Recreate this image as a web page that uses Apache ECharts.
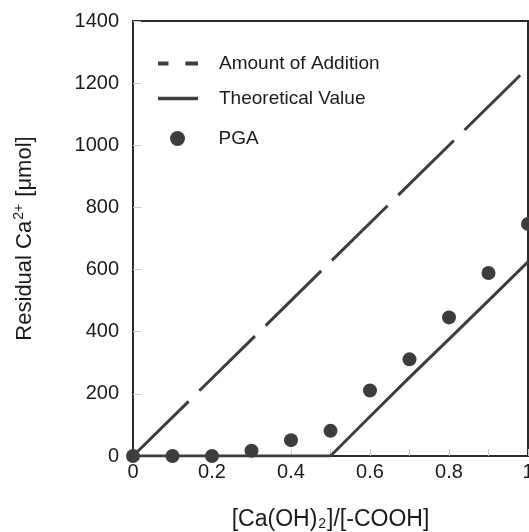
<!DOCTYPE html>
<html><head><meta charset="utf-8">
<script src="https://cdn.jsdelivr.net/npm/echarts@6/dist/echarts.min.js"></script>
<style>html,body{margin:0;padding:0;background:#fff}#c{width:529px;height:532px}</style>
</head><body><div id="c"></div>
<script>
const ratios = [0, 0.1, 0.2, 0.3, 0.4, 0.5, 0.6, 0.7, 0.8, 0.9, 1.0];
const additionX = [0, 1.0];
const additionY = [0, 1250];
const theoreticalY = [0, 0, 0, 0, 0, 0, 127, 253, 376, 500, 625];
const pgaY = [0, 0, 0, 17, 51, 81, 211, 311, 446, 589, 747];
const yTicks = [0, 200, 400, 600, 800, 1000, 1200, 1400];

const FONT = 'Liberation Sans, Arial, sans-serif';
const DARK = '#3d3d3d';
const chart = echarts.init(document.getElementById('c'), null, {renderer: 'canvas'});

function legendAt(left, top, name, icon, h) {
  const d = {name: name};
  if (icon) d.icon = icon;
  return {
    left: left, top: top, padding: 0, itemWidth: 40, itemHeight: h || 14,
    data: [d], selectedMode: false,
    textStyle: {fontFamily: FONT, fontSize: 19, color: '#1a1a1a', padding: [0, 0, 0, 16]}
  };
}

chart.setOption({
  animation: false,
  backgroundColor: '#fff',
  grid: {left: 133, right: 1, top: 21, bottom: 76, containLabel: false, outerBoundsMode: 'none',
         show: true, borderColor: '#2a2a2a', borderWidth: 2, backgroundColor: 'transparent'},
  legend: [
    legendAt(158, 54, 'Amount of Addition', 'path://M0,0H10V3.6H0Z M26,0H38V3.6H26Z'),
    legendAt(158, 89, 'Theoretical Value', 'path://M0,0H39V3.6H0Z'),
    legendAt(170, 129, 'PGA', 'circle', 15)
  ],
  xAxis: {
    type: 'value', min: 0, max: 1, interval: 0.1,
    name: '{a|[Ca(OH)}{s|2}{a|]/[-COOH]}',
    nameLocation: 'middle', nameGap: 47,
    nameTextStyle: {rich: {
      a: {fontFamily: FONT, fontSize: 23, color: '#1a1a1a', lineHeight: 28, verticalAlign: 'bottom'},
      s: {fontFamily: FONT, fontSize: 14, color: '#1a1a1a', lineHeight: 14, verticalAlign: 'bottom', padding: [0, 1, 0, 1]}
    }},
    axisLine: {show: true, lineStyle: {color: '#2a2a2a', width: 2}},
    axisTick: {show: true, inside: true, length: 7, lineStyle: {color: '#c8c8c8', width: 1}},
    splitLine: {show: false},
    axisLabel: {
      fontFamily: FONT, fontSize: 20, color: '#1a1a1a', margin: 6,
      formatter: function (v) {
        const k = Math.round(v * 10);
        return k % 2 === 0 ? String(k / 10) : '';
      }
    }
  },
  yAxis: {
    type: 'value', min: yTicks[0], max: yTicks[yTicks.length - 1], interval: 200,
    name: '{a|Residual Ca}{s|2+}{a| [μmol]}',
    nameLocation: 'middle', nameGap: 97, nameRotate: 90,
    nameTextStyle: {rich: {
      a: {fontFamily: FONT, fontSize: 22, color: '#1a1a1a', lineHeight: 27, verticalAlign: 'bottom'},
      s: {fontFamily: FONT, fontSize: 14, color: '#1a1a1a', lineHeight: 15, verticalAlign: 'top', padding: [3, 1, 0, 1]}
    }},
    axisLine: {show: true, lineStyle: {color: '#2a2a2a', width: 2}},
    axisTick: {show: true, inside: true, length: 8, lineStyle: {color: '#c8c8c8', width: 1}},
    splitLine: {show: false},
    axisLabel: {fontFamily: FONT, fontSize: 20, color: '#1a1a1a', margin: 14,
      formatter: function (v) { return String(v); }}
  },
  series: [
    {
      name: 'Amount of Addition', type: 'line', symbol: 'none',
      data: additionX.map((x, i) => [x, additionY[i]]),
      lineStyle: {color: DARK, width: 3, type: [78, 15]},
      itemStyle: {color: DARK}, z: 2
    },
    {
      name: 'Theoretical Value', type: 'line', symbol: 'none',
      data: ratios.map((x, i) => [x, theoreticalY[i]]),
      lineStyle: {color: DARK, width: 3},
      itemStyle: {color: DARK}, z: 2
    },
    {
      name: 'PGA', type: 'scatter', symbol: 'circle', symbolSize: 14,
      data: ratios.map((x, i) => [x, pgaY[i]]),
      itemStyle: {color: DARK, opacity: 1}, z: 3, clip: false
    }
  ]
});
</script></body></html>
